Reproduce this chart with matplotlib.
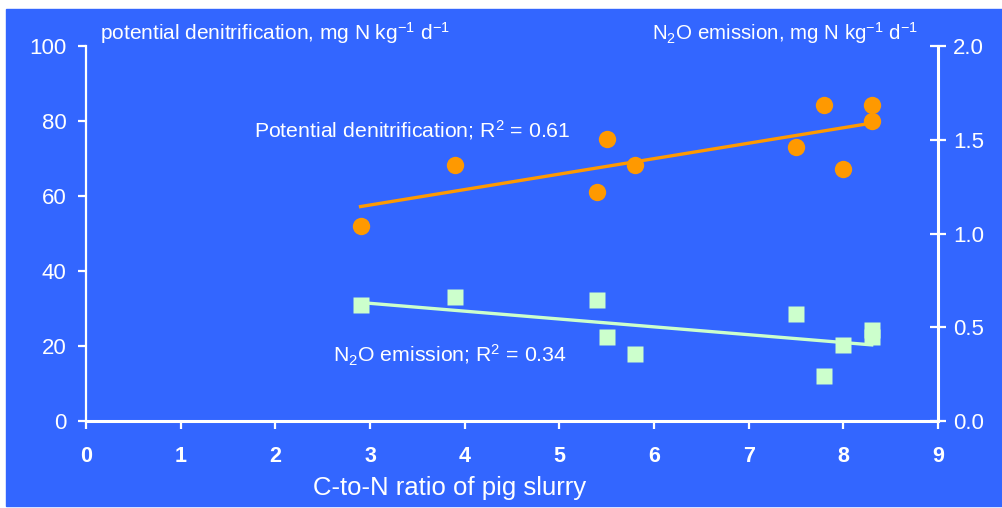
import numpy as np
import matplotlib
matplotlib.use("Agg")
import matplotlib.pyplot as plt
from matplotlib.patches import Rectangle

# C-to-N ratio of the slurries
cn_ratio = [2.9, 3.9, 5.4, 5.5, 5.8, 7.5, 7.8, 8.0, 8.3, 8.3]
# potential denitrification, mg N kg-1 d-1 (left axis)
denitrification = [52.0, 68.3, 61.0, 75.2, 68.3, 73.0, 84.3, 67.2, 84.3, 80.0]
# N2O emission, mg N kg-1 d-1 (right axis)
n2o_emission = [0.62, 0.66, 0.645, 0.448, 0.357, 0.571, 0.24, 0.405, 0.483, 0.45]

x_ticks = list(range(0, 10))
left_ticks = [0, 20, 40, 60, 80, 100]
right_ticks = [0.0, 0.5, 1.0, 1.5, 2.0]

BLUE = "#3366FF"
ORANGE = "#FF9900"
GREEN = "#CCFFCC"

plt.rcParams["font.family"] = ["Liberation Sans", "DejaVu Sans"]
plt.rcParams["mathtext.fontset"] = "custom"
plt.rcParams["mathtext.rm"] = "Liberation Sans"
plt.rcParams["mathtext.it"] = "Liberation Sans"


def trend(x, y):
    """least squares line between the smallest and largest x"""
    k, b = np.polyfit(x, y, 1)
    xs = np.array([min(x), max(x)])
    return xs, k * xs + b


fig = plt.figure(figsize=(10.03, 5.08), dpi=100, facecolor="white")
fig.patches.append(Rectangle((6 / 1003, 2 / 508), 1, (508 - 11) / 508,
                             transform=fig.transFigure, color=BLUE, zorder=-10))

ax = fig.add_axes([86 / 1003, 87 / 508, 852 / 1003, 375 / 508])
ax.set_facecolor("none")
ax2 = ax.twinx()
ax2.set_facecolor("none")

# denitrification on the left axis
tx, ty = trend(cn_ratio, denitrification)
ax.plot(tx, ty, color=ORANGE, lw=2.4, zorder=2)
ax.plot(cn_ratio, denitrification, "o", color=ORANGE, ms=12.5, mec="none", zorder=3)

# N2O on the right axis
tx, ty = trend(cn_ratio, n2o_emission)
ax2.plot(tx, ty, color=GREEN, lw=2.4, zorder=2)
ax2.plot(cn_ratio, n2o_emission, "s", color=GREEN, ms=12, mec="none", zorder=3)

ax.set_xlim(0, 9)
ax.set_ylim(0, 100)
ax2.set_ylim(0, 2)
ax.set_xticks(x_ticks)
ax.set_yticks(left_ticks)
ax2.set_yticks(right_ticks)
ax2.set_yticklabels([f"{v:.1f}" for v in right_ticks])

for s in ["top", "right"]:
    ax.spines[s].set_visible(False)
for s in ["top", "left", "bottom"]:
    ax2.spines[s].set_visible(False)
ax.spines["left"].set_color("white")
ax.spines["left"].set_linewidth(1.6)
ax.spines["bottom"].set_color("white")
ax.spines["bottom"].set_linewidth(2.2)
ax2.spines["right"].set_color("white")
ax2.spines["right"].set_linewidth(2.2)

ax.tick_params(axis="x", colors="white", direction="out", length=6, width=1.6,
               pad=12, labelsize=15.5)
for lab in ax.get_xticklabels():
    lab.set_fontweight("bold")
ax.tick_params(axis="y", colors="white", direction="out", length=6, width=1.6,
               pad=8, labelsize=16)
ax2.tick_params(axis="y", colors="white", direction="inout", length=12, width=1.6,
                pad=5, labelsize=16)

fig.text(313 / 1003, 1 - 488 / 508, "C-to-N ratio of pig slurry", color="white",
         fontsize=18.5, ha="left", va="center")
fig.text(100 / 1003, 1 - 33 / 508, "potential denitrification, mg N kg$^{-1}$ d$^{-1}$",
         color="white", fontsize=15, ha="left", va="center")
fig.text(918 / 1003, 1 - 33 / 508, "N$_2$O emission, mg N kg$^{-1}$ d$^{-1}$",
         color="white", fontsize=14.8, ha="right", va="center")
fig.text(254 / 1003, 1 - 130 / 508, "Potential denitrification; R$^2$ = 0.61",
         color="white", fontsize=15.3, ha="left", va="center")
fig.text(333 / 1003, 1 - 355 / 508, "N$_2$O emission; R$^2$ = 0.34",
         color="white", fontsize=15.3, ha="left", va="center")

fig.savefig("out.png", dpi=100, facecolor="white")
